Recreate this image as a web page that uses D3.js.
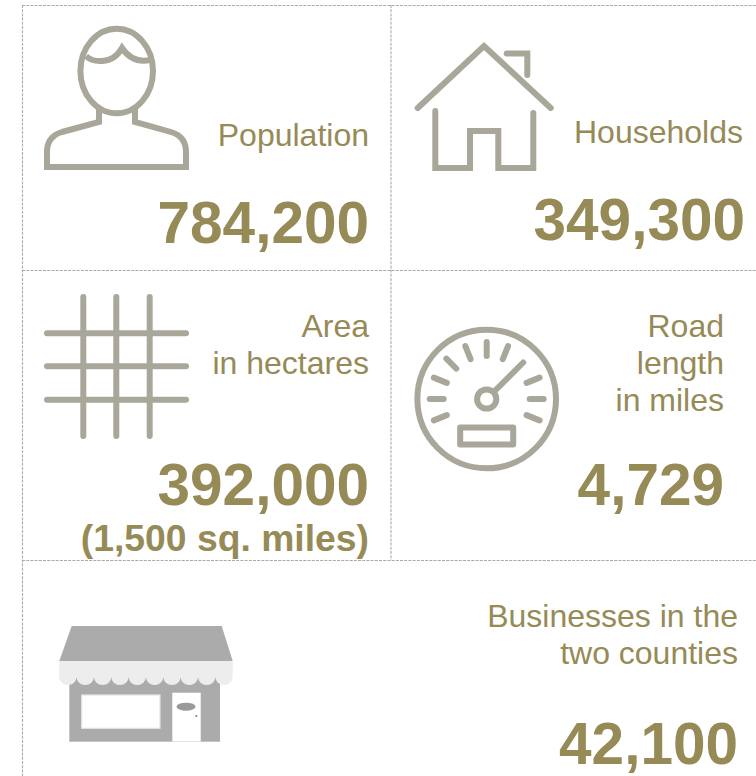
<!DOCTYPE html>
<html>
<head>
<meta charset="utf-8">
<script src="https://cdn.jsdelivr.net/npm/d3@7"></script>
<style>
html,body{margin:0;padding:0;background:#fff;overflow:hidden}
svg{display:block}
text{font-family:"Liberation Sans",Arial,sans-serif;fill:#968A56;text-anchor:end}
</style>
</head>
<body>
<div id="chart"></div>
<script>
// Data
const categories = [["Population"],["Households"],["Area","in hectares"],["Road","length","in miles"],["Businesses in the","two counties"]];
const values = ["784,200","349,300","392,000","4,729","42,100"];
const notes = ["","","(1,500 sq. miles)","",""];

// Layout
const rightEdges = [369,743,369,724,738];
const valueRight = [369,745,369,724,738];
const labelBaselines = [146,143,337,337,627];
const valueBaselines = [243,240,505,505,764];
const noteBaseline = 551;
const labelSize = 32, lineStep = 37, valueSize = 58.5, noteSize = 37.3;
const ink = "#A9A69A";

const svg = d3.select("#chart").append("svg").attr("width",756).attr("height",776);

// Dashed grid
const rules = [[22,5.5,756,5.5],[22.5,5,22.5,776],[391,5,391,560],[22,270.5,756,270.5],[22,560.5,756,560.5]];
svg.append("g").selectAll("line").data(rules).join("line")
  .attr("x1",d=>d[0]).attr("y1",d=>d[1]).attr("x2",d=>d[2]).attr("y2",d=>d[3])
  .attr("stroke","#ABABAB").attr("stroke-width",1.1).attr("stroke-dasharray","3,1.2");

// Outline icons
const icons = svg.append("g").attr("fill","none").attr("stroke",ink).attr("stroke-width",6);

// Person
icons.append("ellipse").attr("cx",116.7).attr("cy",71).attr("rx",36.3).attr("ry",42.3);
icons.append("path").attr("d","M86,56C92,62 112,66 122,48C130,60 140,62 150,60");
icons.append("path").attr("d","M99,108V122L62,132C52,135 47,142 47,152V167H186V152C186,142 181,135 171,132L135,122V108");

// House
const house = icons.append("g").attr("stroke-linecap","round");
house.append("path").attr("d","M417.7,108L484,46L550.7,108");
house.append("path").attr("d","M506.7,53.5H527.3V75");
house.append("path").attr("d","M435.3,111V168H470V131H498.3V168H533.3V113");

// Grid of streets
const grid = icons.append("g").attr("stroke-linecap","round");
[83.3,116.3,149.7].forEach(x=>grid.append("line").attr("x1",x).attr("x2",x).attr("y1",297).attr("y2",436));
[333.3,366.3,399.7].forEach(y=>grid.append("line").attr("y1",y).attr("y2",y).attr("x1",47).attr("x2",186));

// Gauge
const g = icons.append("g").attr("transform","translate(486.7,399)").attr("stroke-linecap","round");
g.append("circle").attr("r",69.3);
[-112,-90,-68,-45,-22,0,22,68,90,112].forEach(a=>{
  const t=a*Math.PI/180;
  g.append("line").attr("x1",43*Math.sin(t)).attr("y1",-43*Math.cos(t))
    .attr("x2",57*Math.sin(t)).attr("y2",-57*Math.cos(t));
});
g.append("circle").attr("r",9.6);
g.append("line").attr("x1",7).attr("y1",-7).attr("x2",36.5).attr("y2",-36.5);
g.append("rect").attr("x",-26.5).attr("y",28.5).attr("width",53).attr("height",17).attr("stroke-linejoin","round");

// Shop
const shop = svg.append("g");
shop.append("path").attr("d","M71.7,626H221.7L232.7,661H59.3Z").attr("fill","#ABABAB");
shop.append("rect").attr("x",69.3).attr("y",675).attr("width",150.7).attr("height",66.7).attr("fill","#ABABAB");
const scallop = 17.35;
const bumps = d3.range(10);
shop.append("path").attr("fill","#EDEDED").attr("d",
  "M59.3,661H232.7V677"+bumps.map(()=>"a8.67,8 0 0 1 -"+scallop+",0").join("")+"Z");
shop.append("rect").attr("x",81.7).attr("y",695).attr("width",78.3).attr("height",33.3).attr("fill","#fff").attr("stroke","#E4E4E4").attr("stroke-width",1.2);
shop.append("rect").attr("x",172.3).attr("y",692.7).attr("width",28.4).attr("height",48.8).attr("fill","#fff");
shop.append("ellipse").attr("cx",186).attr("cy",706.7).attr("rx",9.5).attr("ry",4).attr("fill","#9A9A9A");
shop.append("circle").attr("cx",196.3).attr("cy",716).attr("r",1.1).attr("fill","#888");

// Text
categories.forEach((lines,i)=>{
  lines.forEach((s,j)=>{
    svg.append("text").attr("x",rightEdges[i]).attr("y",labelBaselines[i]+j*lineStep)
      .attr("font-size",labelSize).text(s);
  });
  svg.append("text").attr("x",valueRight[i]).attr("y",valueBaselines[i])
    .attr("font-size",valueSize).attr("font-weight","bold").text(values[i]);
  if(notes[i]) svg.append("text").attr("x",valueRight[i]).attr("y",noteBaseline)
    .attr("font-size",noteSize).attr("font-weight","bold").text(notes[i]);
});
</script>
</body>
</html>
